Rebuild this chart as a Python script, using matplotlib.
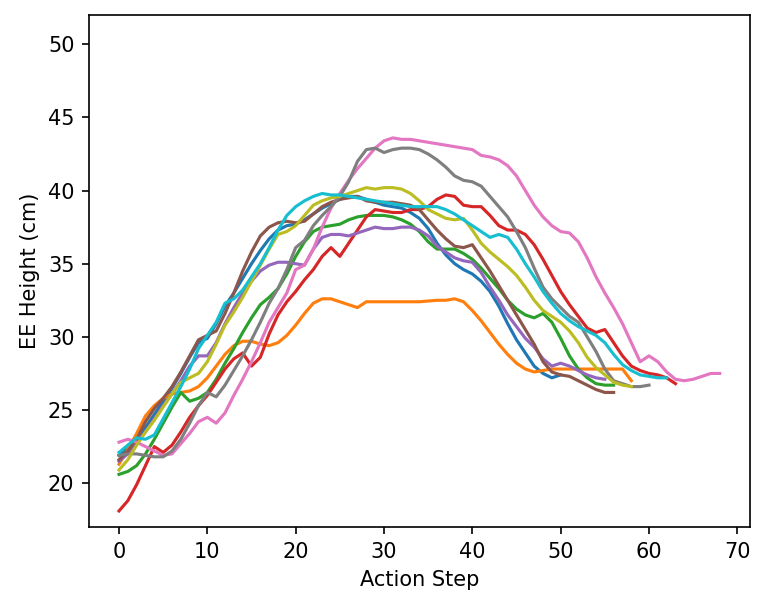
import matplotlib
matplotlib.use("Agg")
import matplotlib.pyplot as plt

blue = [21.9, 22.4, 23.0, 23.8, 24.7, 25.6, 26.5, 27.5, 28.6, 29.6,
        29.9, 30.9, 32.1, 33.0, 34.0, 35.0, 35.9, 36.7, 37.3, 37.6,
        37.7, 38.0, 38.4, 38.8, 39.1, 39.4, 39.6, 39.6, 39.4, 39.2,
        39.0, 38.9, 38.8, 38.5, 38.1, 37.4, 36.4, 35.6, 35.0, 34.6,
        34.3, 33.8, 33.1, 32.1, 30.9, 29.8, 28.9, 28.0, 27.5, 27.2,
        27.4]

orange = [21.3, 22.3, 23.4, 24.6, 25.3, 25.8, 26.1, 26.2, 26.3, 26.6,
          27.2, 28.0, 28.8, 29.4, 29.7, 29.7, 29.5, 29.4, 29.6, 30.1,
          30.8, 31.6, 32.3, 32.6, 32.6, 32.4, 32.2, 32.0, 32.4, 32.4,
          32.4, 32.4, 32.4, 32.4, 32.4, 32.45, 32.5, 32.5, 32.6, 32.4,
          31.8, 31.1, 30.3, 29.5, 28.8, 28.2, 27.8, 27.6, 27.7, 27.8,
          27.8, 27.8, 27.8, 27.8, 27.8, 27.8, 27.8, 27.8, 27.0]

green = [20.6, 20.8, 21.2, 22.0, 23.0, 24.1, 25.2, 26.2, 25.6, 25.8,
         26.2, 27.1, 28.2, 29.2, 30.3, 31.3, 32.2, 32.7, 33.3, 34.3,
         35.5, 36.5, 37.2, 37.5, 37.6, 37.7, 38.0, 38.2, 38.3, 38.3,
         38.3, 38.2, 38.0, 37.7, 37.2, 36.5, 36.0, 36.0, 36.0, 35.7,
         35.3, 34.7, 34.0, 33.3, 32.5, 31.9, 31.5, 31.3, 31.6, 31.0,
         29.9, 28.7, 27.8, 27.2, 26.8, 26.7, 26.7]

red = [18.1, 18.8, 19.9, 21.2, 22.5, 22.1, 22.6, 23.5, 24.5, 25.3,
       26.0, 26.9, 27.8, 28.5, 28.9, 28.0, 28.6, 30.2, 31.5, 32.4,
       33.1, 33.9, 34.6, 35.5, 36.1, 35.5, 36.4, 37.3, 38.2, 38.7,
       38.6, 38.5, 38.5, 38.7, 38.7, 38.9, 39.4, 39.7, 39.6, 39.0,
       38.9, 38.9, 38.3, 37.6, 37.3, 37.3, 37.0, 36.3, 35.3, 34.2,
       33.1, 32.2, 31.4, 30.6, 30.3, 30.5, 29.6, 28.7, 28.0, 27.7,
       27.5, 27.4, 27.2, 26.8]

purple = [21.5, 22.0, 22.8, 23.5, 24.4, 25.3, 26.1, 27.0, 28.0, 28.7,
          28.7, 29.6, 30.9, 32.0, 33.0, 33.8, 34.5, 34.9, 35.1, 35.1,
          35.0, 34.9, 36.0, 36.8, 37.0, 37.0, 36.9, 37.1, 37.3, 37.5,
          37.4, 37.4, 37.5, 37.5, 37.3, 36.9, 36.2, 35.8, 35.4, 35.2,
          35.1, 34.4, 33.4, 32.5, 31.5, 30.7, 29.9, 29.3, 28.5, 28.0,
          28.2, 28.0, 27.7, 27.4, 27.2, 27.1]

brown = [21.6, 22.2, 23.0, 24.2, 25.1, 25.8, 26.6, 27.6, 28.7, 29.8,
         30.1, 30.4, 31.6, 33.0, 34.5, 35.8, 36.9, 37.5, 37.8, 37.9,
         37.8, 37.9, 38.4, 38.9, 39.2, 39.4, 39.5, 39.6, 39.3, 39.2,
         39.2, 39.2, 39.1, 39.0, 38.7, 38.0, 37.3, 36.7, 36.2, 36.1,
         36.3, 35.4, 34.5, 33.5, 32.5, 31.5, 30.5, 29.5, 28.3, 27.6,
         27.4, 27.3, 27.0, 26.7, 26.4, 26.2, 26.2]

pink = [22.8, 23.0, 22.8, 22.5, 22.2, 21.9, 22.0, 22.7, 23.4, 24.2,
        24.5, 24.1, 24.8, 26.0, 27.1, 28.3, 29.6, 31.0, 32.0, 33.0,
        34.6, 34.9, 36.0, 37.5, 38.8, 39.8, 40.7, 41.5, 42.2, 42.9,
        43.4, 43.6, 43.5, 43.5, 43.4, 43.3, 43.2, 43.1, 43.0, 42.9,
        42.8, 42.4, 42.3, 42.1, 41.7, 41.0, 40.0, 39.0, 38.2, 37.6,
        37.2, 37.1, 36.5, 35.4, 34.1, 33.0, 32.0, 30.9, 29.6, 28.3,
        28.7, 28.3, 27.6, 27.1, 27.0, 27.1, 27.3, 27.5, 27.5]

gray = [21.9, 22.0, 22.0, 21.9, 21.8, 21.8, 22.2, 23.0, 24.1, 25.3,
        26.2, 25.9, 26.7, 27.7, 28.7, 29.8, 31.0, 32.3, 33.3, 34.6,
        36.1, 36.6, 37.6, 38.3, 38.9, 39.6, 40.6, 42.0, 42.8, 42.9,
        42.6, 42.8, 42.9, 42.9, 42.8, 42.5, 42.1, 41.6, 41.0, 40.7,
        40.6, 40.3, 39.6, 38.9, 38.2, 37.2, 36.1, 34.7, 33.4, 32.6,
        32.0, 31.4, 31.0, 30.0, 29.0, 27.8, 27.0, 26.8, 26.6, 26.6,
        26.7]

olive = [20.9, 21.6, 22.6, 23.5, 24.3, 25.2, 26.1, 26.9, 27.2, 27.5,
         28.3, 29.5, 30.8, 31.7, 32.7, 33.8, 34.9, 36.0, 37.0, 37.2,
         37.6, 38.3, 39.0, 39.3, 39.5, 39.6, 39.8, 40.0, 40.2, 40.1,
         40.2, 40.2, 40.1, 39.8, 39.3, 38.7, 38.4, 38.1, 38.0, 38.1,
         37.3, 36.4, 35.8, 35.3, 34.8, 34.2, 33.4, 32.5, 31.8, 31.4,
         31.0, 30.4, 29.6, 28.6, 27.9, 27.4, 26.9, 26.7, 26.6]

cyan = [22.1, 22.6, 23.1, 23.0, 23.3, 24.4, 25.5, 26.6, 27.8, 29.2,
        30.1, 31.0, 32.3, 32.6, 33.2, 34.1, 35.0, 36.1, 37.3, 38.3,
        38.9, 39.3, 39.6, 39.8, 39.7, 39.7, 39.6, 39.5, 39.4, 39.3,
        39.2, 39.1, 39.0, 38.9, 38.9, 38.9, 38.9, 38.7, 38.4, 38.0,
        37.6, 37.2, 36.8, 37.0, 36.8, 36.0, 35.0, 34.1, 33.1, 32.3,
        31.6, 31.1, 30.7, 30.4, 30.1, 29.6, 28.8, 28.1, 27.7, 27.4,
        27.3, 27.2, 27.2]

series = [blue, orange, green, red, purple, brown, pink, gray, olive, cyan]

fig = plt.figure(figsize=(5.1, 6.1 / 1.5), dpi=150)
ax = fig.add_axes([0.1163, 0.136, 0.8637, 0.8394])
for s in series:
    ax.plot(range(len(s)), s, linewidth=1.5)

ax.set_ylim(17, 52)
ax.set_xticks([0, 10, 20, 30, 40, 50, 60, 70])
ax.set_yticks([20, 25, 30, 35, 40, 45, 50])
ax.set_xlabel("Action Step")
ax.set_ylabel("EE Height (cm)")

fig.savefig("out.png", dpi=150)
